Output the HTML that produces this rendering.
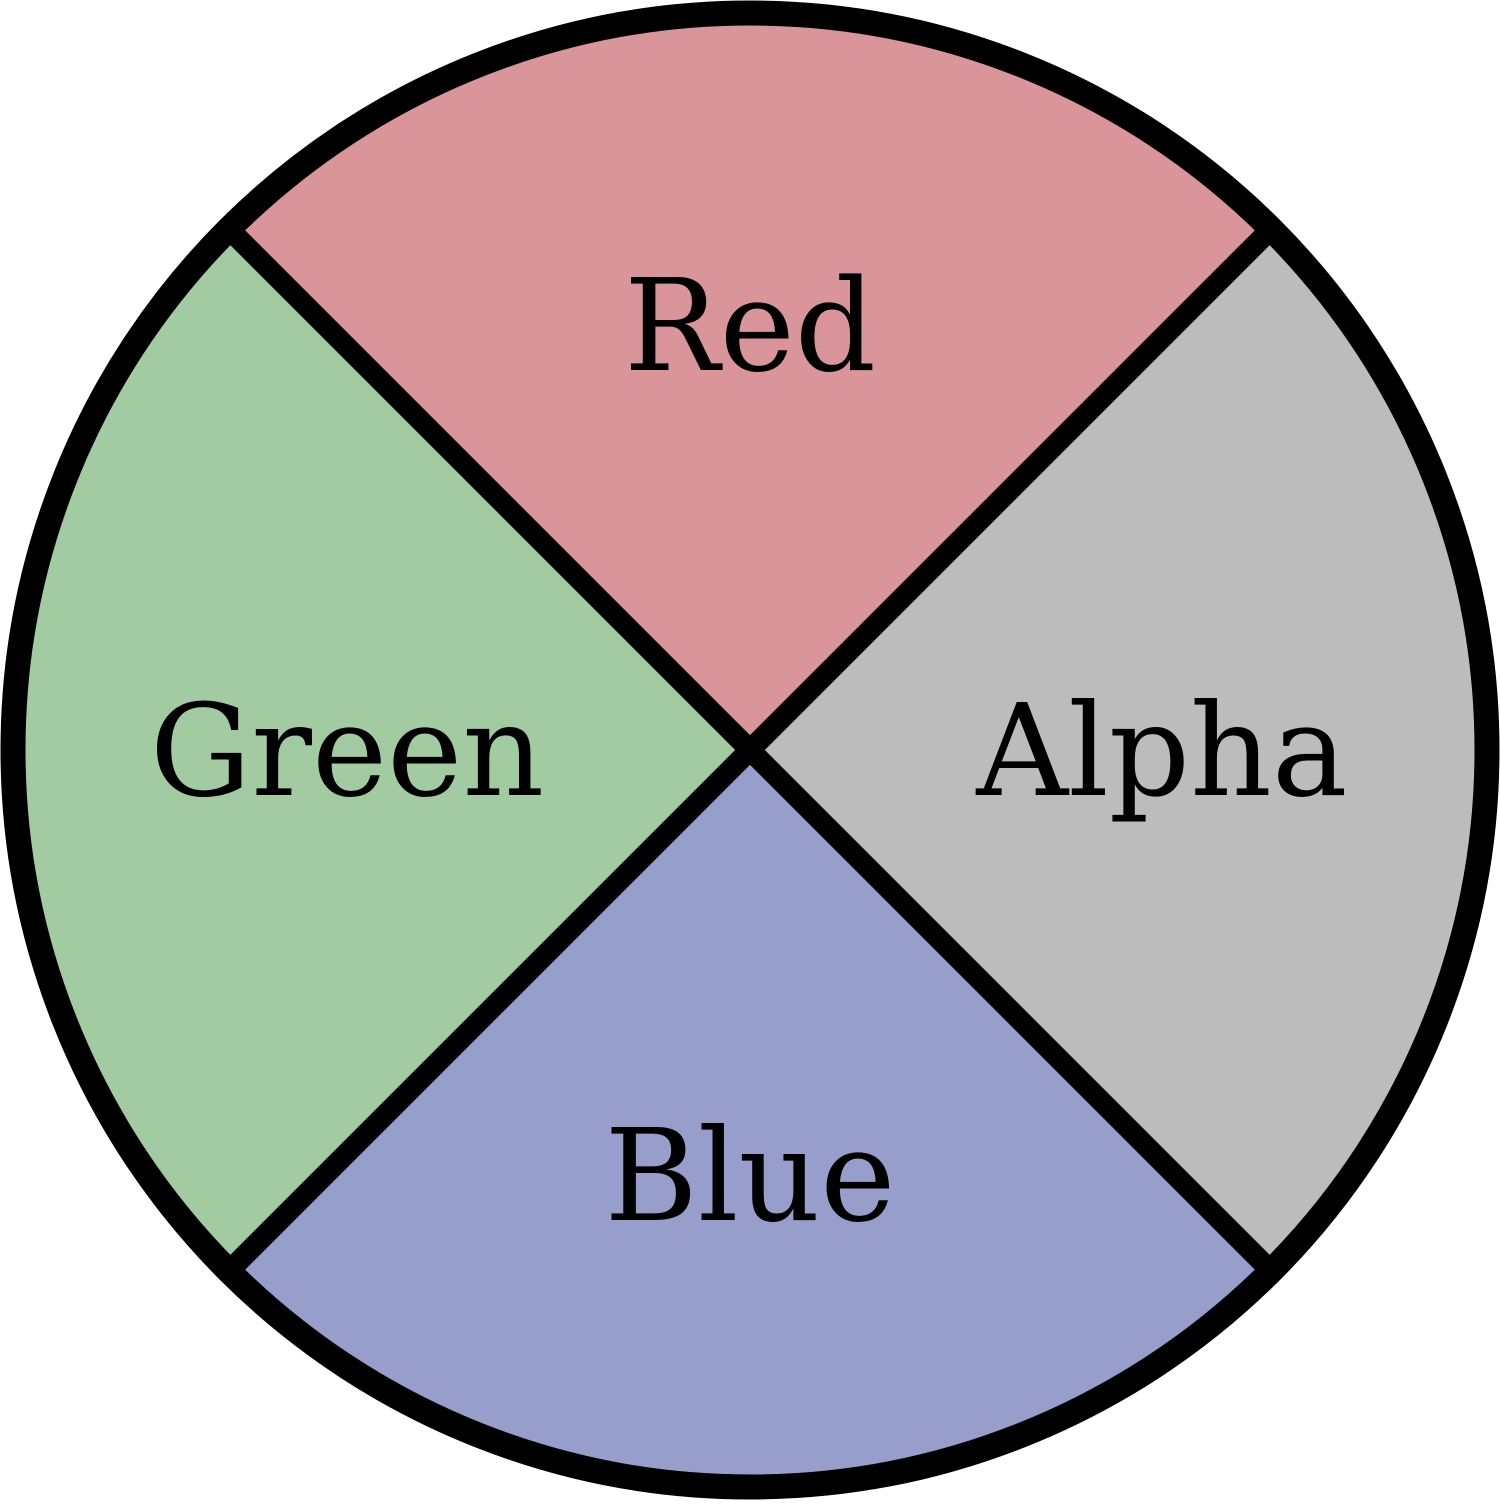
<!DOCTYPE html>
<html><head><style>html,body{margin:0;padding:0;background:#fff}</style></head>
<body>
<svg width="1500" height="1500" viewBox="0 0 1500 1500" xmlns="http://www.w3.org/2000/svg">
<g stroke="none">
<path d="M750,750 L229,229 A737,737 0 0 1 1271,229 Z" fill="#d99599"/>
<path d="M750,750 L1271,229 A737,737 0 0 1 1271,1271 Z" fill="#bcbcbc"/>
<path d="M750,750 L1271,1271 A737,737 0 0 1 229,1271 Z" fill="#979ecb"/>
<path d="M750,750 L229,1271 A737,737 0 0 1 229,229 Z" fill="#a2cba2"/>
</g>
<line x1="229" y1="229" x2="1271" y2="1271" stroke="#000" stroke-width="21"/>
<line x1="1271" y1="229" x2="229" y2="1271" stroke="#000" stroke-width="21"/>
<circle cx="750" cy="750" r="737" fill="none" stroke="#000" stroke-width="25"/>
<g font-family="'DejaVu Serif','Liberation Serif',serif" font-size="127" text-anchor="middle" fill="#000">
<text x="750" y="370">Red</text>
<text x="347" y="795">Green</text>
<text x="1162" y="795">Alpha</text>
<text x="750" y="1220">Blue</text>
</g>
</svg>
</body></html>
